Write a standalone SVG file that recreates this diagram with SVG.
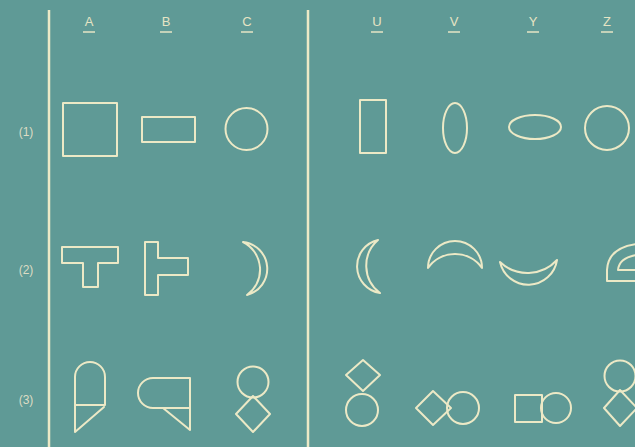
<svg xmlns="http://www.w3.org/2000/svg" width="635" height="447" viewBox="0 0 635 447">
<style>
.s{fill:none;stroke:#ece9c6;stroke-width:2;stroke-linejoin:round;stroke-linecap:round}
.h{font-family:"Liberation Sans",Arial,sans-serif;font-size:13px;fill:#e6e4c4;text-anchor:middle}
.r{font-family:"Liberation Sans",Arial,sans-serif;font-size:12px;fill:#dcdcc4;text-anchor:middle}
.u{stroke:#e6e4c4;stroke-width:1.5}
.d{stroke:#ece9c6;stroke-width:2.5}
</style>
<rect width="635" height="447" fill="#5f9a96"/>
<g id="dividers">
<line class="d" x1="49" y1="10" x2="49" y2="447"/>
<line class="d" x1="308" y1="10" x2="308" y2="447"/>
</g>
<g id="headers">
<text class="h" x="89" y="26">A</text><line class="u" x1="83" y1="32" x2="95" y2="32"/>
<text class="h" x="166" y="26">B</text><line class="u" x1="160" y1="32" x2="172" y2="32"/>
<text class="h" x="247" y="26">C</text><line class="u" x1="241" y1="32" x2="253" y2="32"/>
<text class="h" x="377" y="26">U</text><line class="u" x1="371" y1="32" x2="383" y2="32"/>
<text class="h" x="454" y="26">V</text><line class="u" x1="448" y1="32" x2="460" y2="32"/>
<text class="h" x="533" y="26">Y</text><line class="u" x1="527" y1="32" x2="539" y2="32"/>
<text class="h" x="607" y="26">Z</text><line class="u" x1="601" y1="32" x2="613" y2="32"/>
</g>
<g id="rowlabels">
<text class="r" x="26" y="136">(1)</text>
<text class="r" x="26" y="274">(2)</text>
<text class="r" x="26" y="404">(3)</text>
</g>
<g id="r1A"><rect class="s" x="63" y="103" width="54" height="53"/></g>
<g id="r1B"><rect class="s" x="142" y="117" width="53" height="25"/></g>
<g id="r1C"><circle class="s" cx="246.5" cy="129" r="21"/></g>
<g id="r1U"><rect class="s" x="360" y="100" width="26" height="53"/></g>
<g id="r1V"><ellipse class="s" cx="455" cy="128" rx="12" ry="25"/></g>
<g id="r1Y"><ellipse class="s" cx="535" cy="127" rx="26" ry="12"/></g>
<g id="r1Z"><circle class="s" cx="607" cy="128" r="22"/></g>
<g id="r2A"><path class="s" d="M62,247 H118 V263 H98 V287 H83 V263 H62 Z"/></g>
<g id="r2B"><path class="s" d="M145,242 H158 V258 H188 V275 H158 V295 H145 Z"/></g>
<g id="r2C"><path class="s" d="M243,242 A27,27 0 0 1 247,295 A31,31 0 0 0 243,242 Z"/></g>
<g id="r2U"><path class="s" d="M378,240 A27,27 0 0 0 380,293 A34,34 0 0 1 378,240 Z"/></g>
<g id="r2V"><path class="s" d="M428,268 A27,27 0 0 1 482,268 A33,33 0 0 0 428,268 Z"/></g>
<g id="r2Y"><path class="s" d="M500,262 A29,29 0 0 0 557,260 A40,40 0 0 1 500,262 Z"/></g>
<g id="r2Z"><path class="s" d="M636,244 Q608,248 607,270 V281 H636 M636,255 Q619,258 618,270 H636"/></g>
<g id="r3A"><path class="s" d="M75,405 V377 A15,15 0 0 1 105,377 V405 H75 V432 L104,407"/></g>
<g id="r3B"><path class="s" d="M153,378 H190 V430 L163,408 M190,408 H153 A15,15 0 0 1 153,378"/></g>
<g id="r3C"><circle class="s" cx="253" cy="382" r="15.5"/><path class="s" d="M253,396 L270,414 L253,432 L236,414 Z"/></g>
<g id="r3U"><path class="s" d="M363,360 L380,375 L363,391 L346,375 Z"/><circle class="s" cx="362" cy="410" r="16"/></g>
<g id="r3V"><path class="s" d="M433,391 L451,408 L433,425 L416,408 Z"/><circle class="s" cx="463" cy="408" r="16"/></g>
<g id="r3Y"><rect class="s" x="515" y="395" width="27" height="27"/><circle class="s" cx="556" cy="408" r="15"/></g>
<g id="r3Z"><circle class="s" cx="620" cy="376" r="15.5"/><path class="s" d="M620,390 L637,408 L620,426 L604,408 Z"/></g>
</svg>
